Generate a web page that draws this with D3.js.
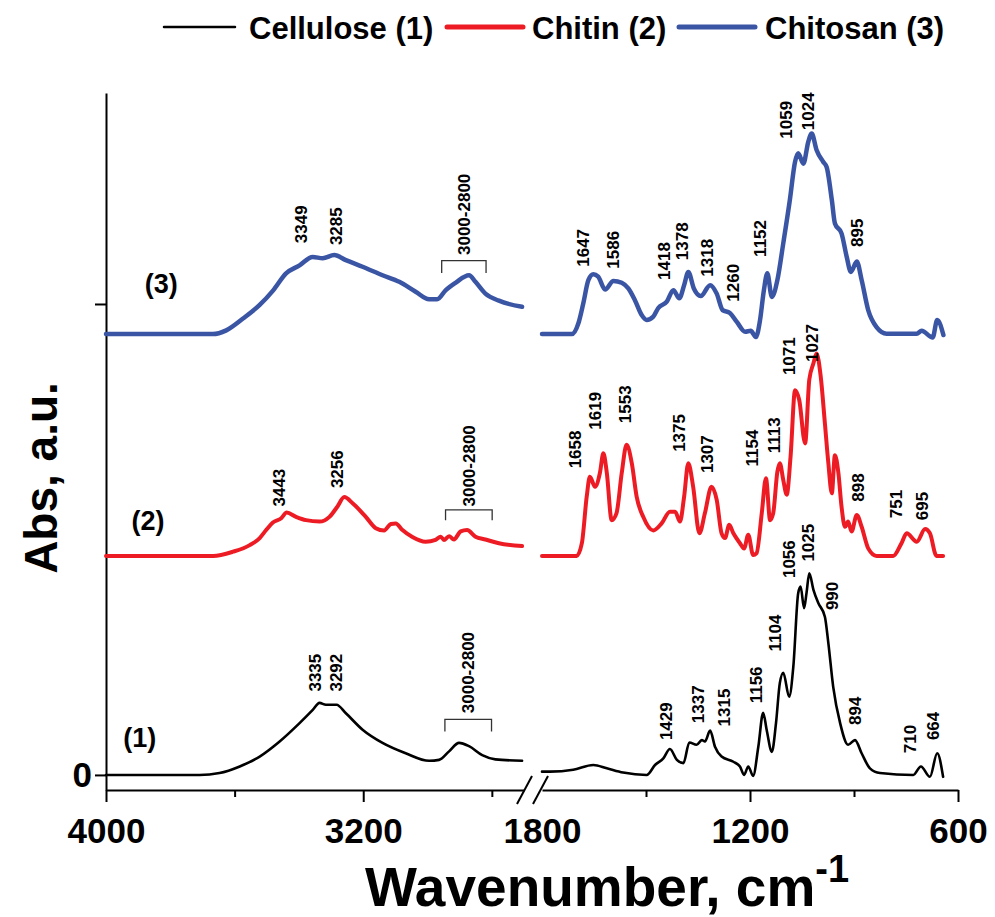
<!DOCTYPE html>
<html>
<head>
<meta charset="utf-8">
<script src="https://cdn.jsdelivr.net/npm/d3@7"></script>
<style>
  body { margin: 0; background: #fff; }
  svg { display: block; }
  text { font-family: "Liberation Sans", Arial, sans-serif; fill: #000; }
</style>
</head>
<body>
<svg id="chart" width="995" height="917"></svg>
<script>
// spectra: [wavenumber, absorbance] pairs, high range (4000-2700) and fingerprint range (1800-600)
const celluloseHigh = [[4000,0],[3709,0],[3647,0.004],[3584,0.018],[3522,0.039],[3460,0.071],[3398,0.110],[3357,0.138],[3336,0.153],[3316,0.149],[3283,0.149],[3254,0.131],[3202,0.096],[3140,0.068],[3068,0.046],[2995,0.030],[2964,0.032],[2933,0.050],[2902,0.068],[2871,0.061],[2830,0.042],[2789,0.033],[2706,0.030]]
const celluloseLow = [[1800,0.007],[1777,0.007],[1710,0.011],[1652,0.021],[1613,0.014],[1566,0.005],[1498,0],[1474,0.021],[1450,0.035],[1431,0.055],[1411,0.032],[1392,0.025],[1375,0.069],[1354,0.064],[1339,0.074],[1330,0.071],[1315,0.094],[1301,0.060],[1282,0.039],[1248,0.028],[1229,0.018],[1217,0],[1205,0.018],[1191,-0.002],[1176,0.060],[1162,0.132],[1152,0.096],[1137,0.049],[1125,0.110],[1114,0.195],[1104,0.217],[1087,0.166],[1075,0.230],[1061,0.386],[1054,0.400],[1044,0.354],[1037,0.386],[1029,0.428],[1017,0.393],[1003,0.365],[984,0.336],[974,0.280],[960,0.187],[940,0.110],[917,0.064],[897,0.074],[878,0.046],[854,0.014],[825,0.004],[729,0],[707,0.018],[681,-0.004],[660,0.046],[643,-0.004]]

const chitinHigh = [[4000,0],[3667,0],[3605,0.009],[3553,0.023],[3522,0.038],[3502,0.055],[3481,0.071],[3455,0.080],[3438,0.092],[3409,0.083],[3378,0.076],[3336,0.073],[3305,0.083],[3280,0.105],[3259,0.125],[3233,0.112],[3192,0.083],[3161,0.059],[3135,0.054],[3114,0.068],[3099,0.069],[3078,0.055],[3047,0.040],[3006,0.030],[2975,0.034],[2959,0.041],[2949,0.034],[2933,0.042],[2918,0.035],[2897,0.052],[2877,0.055],[2851,0.041],[2820,0.035],[2778,0.027],[2706,0.021]]
const chitinLow = [[1800,0],[1700,0],[1685,0.027],[1671,0.126],[1662,0.168],[1647,0.147],[1633,0.176],[1623,0.218],[1613,0.176],[1599,0.076],[1585,0.091],[1570,0.176],[1556,0.236],[1541,0.197],[1527,0.126],[1508,0.083],[1479,0.054],[1455,0.069],[1431,0.094],[1416,0.094],[1402,0.073],[1390,0.126],[1378,0.197],[1364,0.147],[1346,0.048],[1330,0.091],[1311,0.147],[1296,0.119],[1282,0.048],[1272,0.038],[1260,0.066],[1248,0.048],[1229,0.027],[1217,0.016],[1205,0.045],[1191,0.002],[1181,0.006],[1166,0.091],[1154,0.165],[1142,0.076],[1133,0.091],[1121,0.179],[1114,0.197],[1104,0.161],[1094,0.130],[1083,0.211],[1070,0.352],[1058,0.331],[1041,0.239],[1029,0.374],[1017,0.409],[1008,0.430],[996,0.381],[984,0.282],[974,0.197],[964,0.133],[955,0.214],[945,0.176],[936,0.105],[926,0.062],[917,0.073],[907,0.052],[892,0.087],[878,0.062],[859,0.016],[835,0],[787,0],[763,0.027],[748,0.048],[719,0.030],[695,0.057],[681,0.048],[662,0],[643,0]]

const chitosanHigh = [[4000,0],[3668,0],[3626,0.008],[3574,0.033],[3522,0.062],[3480,0.093],[3440,0.129],[3398,0.146],[3357,0.164],[3326,0.161],[3290,0.168],[3254,0.157],[3202,0.143],[3140,0.125],[3088,0.111],[3037,0.090],[2995,0.074],[2970,0.074],[2944,0.093],[2913,0.109],[2871,0.125],[2851,0.111],[2820,0.086],[2778,0.071],[2706,0.058]]
const chitosanLow = [[1800,0],[1714,0],[1695,0.023],[1681,0.065],[1666,0.115],[1652,0.127],[1638,0.122],[1618,0.095],[1594,0.113],[1570,0.109],[1551,0.097],[1532,0.072],[1512,0.040],[1498,0.030],[1479,0.037],[1465,0.055],[1440,0.069],[1421,0.093],[1404,0.076],[1390,0.104],[1378,0.132],[1362,0.097],[1342,0.081],[1315,0.104],[1296,0.086],[1279,0.051],[1258,0.045],[1238,0.026],[1214,0.005],[1198,0.007],[1183,-0.006],[1171,0.030],[1160,0.093],[1150,0.129],[1137,0.079],[1121,0.115],[1104,0.193],[1085,0.285],[1070,0.366],[1061,0.384],[1046,0.362],[1032,0.408],[1022,0.426],[1008,0.391],[989,0.366],[979,0.355],[964,0.285],[955,0.235],[936,0.214],[921,0.164],[909,0.132],[892,0.154],[878,0.115],[859,0.051],[835,0.015],[806,0.001],[719,0.001],[705,0.007],[673,-0.007],[660,0.030],[642,-0.002]]

// vertical offset of each trace (stacked plot)
const seriesNames = ["Cellulose (1)", "Chitin (2)", "Chitosan (3)"]
const seriesTags = ["(1)", "(2)", "(3)"]
const seriesOffsets = [0, 0.465, 0.936]
const seriesColors = ["#000000", "#ed1c24", "#3b55a5"]

// peak labels: [text, wavenumber, level above own baseline]
const celluloseMarks = [["3335",3349,0.177],["3292",3283,0.177],["1429",1442,0.074],["1337",1349,0.110],["1315",1274,0.103],["1156",1183,0.152],["1104",1128,0.262],["1056",1087,0.418],["1025",1032,0.453],["990",964,0.350],["894",897,0.106],["710",739,0.046],["664",671,0.074]]
const chitinMarks = [["3443",3463,0.105],["3256",3280,0.144],["1658",1705,0.186],["1619",1647,0.268],["1553",1561,0.282],["1375",1404,0.221],["1307",1325,0.176],["1154",1195,0.190],["1113",1131,0.218],["1071",1087,0.384],["1027",1022,0.412],["898",888,0.115],["751",779,0.080],["695",705,0.076]]
const chitosanMarks = [["3349",3393,0.193],["3285",3285,0.189],["1647",1683,0.143],["1586",1594,0.139],["1418",1448,0.115],["1378",1397,0.157],["1318",1325,0.122],["1260",1248,0.069],["1152",1171,0.164],["1059",1096,0.415],["1024",1032,0.433],["895",892,0.185]]
// "3000-2800" bracket: [label, from, to, top level, leg level, label level]
const bandBrackets = [["3000-2800",2946,2801,0.118,0.092,0.131],["3000-2800",2944,2799,0.098,0.076,0.105],["3000-2800",2956,2818,0.156,0.130,0.168]]
// where the "(n)" tags sit: [wavenumber, level]
const tagSpots = [[3895,0.079],[3869,0.076],[3828,0.108]]

const highMajor = [4000, 3200], highMinor = [3600, 2800]
const lowMajor = [1800, 1200, 600], lowMinor = [1500, 900]
const yTicks = [0, 1]

const svg = d3.select("#chart")

// scales (broken x axis)
const xHigh = d3.scaleLinear().domain([4000, 2700]).range([106, 524])
const xLow = d3.scaleLinear().domain([1800, 600]).range([542, 958])
const y = d3.scaleLinear().domain([-0.032, 1.448]).range([790, 93])
const xPos = w => w > 2000 ? xHigh(w) : xLow(w)

// axes
function styleAxis(g, fs) {
  g.selectAll(".domain").attr("stroke", "#000").attr("stroke-width", 2)
  g.selectAll(".tick line").attr("stroke", "#000").attr("stroke-width", 2)
  g.selectAll(".tick text").attr("font-size", fs).attr("font-weight", "bold")
    .attr("font-family", "'Liberation Sans', Arial, sans-serif")
}
[[xHigh, highMajor, highMinor], [xLow, lowMajor, lowMinor]].forEach(([sc, maj, mnr]) => {
  const gMaj = svg.append("g").attr("transform", "translate(0,790)")
    .call(d3.axisBottom(sc).tickValues(maj).tickSize(12).tickSizeOuter(0).tickFormat(d3.format("d")))
  styleAxis(gMaj, 35)
  gMaj.attr("font-size", null).attr("font-family", null)
  gMaj.selectAll(".tick text").attr("y", 28)
  // no tick mark at 1800, only the label
  gMaj.selectAll(".tick").filter(d => d === 1800).select("line").remove()
  const gMin = svg.append("g").attr("transform", "translate(0,790)")
    .call(d3.axisBottom(sc).tickValues(mnr).tickSize(7).tickFormat(""))
  gMin.select(".domain").remove()
  styleAxis(gMin, 35)
})

const gy = svg.append("g").attr("transform", "translate(106,0)")
  .call(d3.axisLeft(y).tickValues(yTicks).tickSize(11).tickSizeOuter(0).tickFormat(d => d === 0 ? "0" : ""))
styleAxis(gy, 35)
gy.attr("font-size", null).attr("font-family", null)

// axis break marks
const bx = xHigh.range()[1]
;[0, 16].forEach(dx => {
  svg.append("line")
    .attr("x1", bx - 7 + dx).attr("y1", 804)
    .attr("x2", bx + 8 + dx).attr("y2", 776)
    .attr("stroke", "#000").attr("stroke-width", 2)
})

// traces
const line = (sc, off) => d3.line().curve(d3.curveMonotoneX).x(d => sc(d[0])).y(d => y(d[1] + off))
const traces = [[celluloseHigh, celluloseLow], [chitinHigh, chitinLow], [chitosanHigh, chitosanLow]]
const widths = [2.6, 4, 4.5]
traces.forEach(([hi, lo], i) => {
  ;[[hi, xHigh], [lo, xLow]].forEach(([data, sc]) => {
    svg.append("path").datum(data)
      .attr("d", line(sc, seriesOffsets[i]))
      .attr("fill", "none")
      .attr("stroke", seriesColors[i])
      .attr("stroke-width", widths[i])
      .attr("stroke-linejoin", "round")
      .attr("stroke-linecap", "round")
  })
})

// peak labels
;[celluloseMarks, chitinMarks, chitosanMarks].forEach((marks, i) => {
  svg.append("g").selectAll("text").data(marks).join("text")
    .attr("transform", d => `translate(${xPos(d[1])},${y(seriesOffsets[i] + d[2])}) rotate(-90)`)
    .attr("dy", "0.35em")
    .attr("font-size", 17).attr("font-weight", "bold")
    .text(d => d[0])
})

// 3000-2800 brackets
bandBrackets.forEach((b, i) => {
  const off = seriesOffsets[i]
  const x1 = xHigh(b[1]), x2 = xHigh(b[2])
  svg.append("path")
    .attr("d", `M${x1},${y(off + b[4])}V${y(off + b[3])}H${x2}V${y(off + b[4])}`)
    .attr("fill", "none").attr("stroke", "#333").attr("stroke-width", 1.3)
  svg.append("text")
    .attr("transform", `translate(${(x1 + x2) / 2},${y(off + b[5])}) rotate(-90)`)
    .attr("dy", "0.35em")
    .attr("font-size", 17).attr("font-weight", "bold")
    .text(b[0])
})

// (1) (2) (3)
tagSpots.forEach((t, i) => {
  svg.append("text")
    .attr("x", xHigh(t[0])).attr("y", y(seriesOffsets[i] + t[1]))
    .attr("dy", "0.35em")
    .attr("text-anchor", "middle")
    .attr("font-size", 27).attr("font-weight", "bold")
    .text(seriesTags[i])
})

// axis titles
svg.append("text")
  .attr("transform", "translate(41,478) rotate(-90)")
  .attr("text-anchor", "middle").attr("dy", "0.35em")
  .attr("font-size", 46).attr("font-weight", "bold")
  .text("Abs, a.u.")

const xt = svg.append("text")
  .attr("x", 365).attr("y", 906)
  .attr("font-size", 55).attr("font-weight", "bold")
xt.append("tspan").text("Wavenumber, cm")
xt.append("tspan").attr("dy", -24).attr("font-size", 38).text("-1")

// legend
const legendX = [[164, 235, 249], [447, 523, 532], [679, 755, 765]]
const legendW = [2.5, 5, 5]
seriesNames.forEach((name, i) => {
  const [l1, l2, tx] = legendX[i]
  svg.append("line").attr("x1", l1).attr("x2", l2).attr("y1", 27).attr("y2", 27)
    .attr("stroke", seriesColors[i]).attr("stroke-width", legendW[i]).attr("stroke-linecap", "round")
  svg.append("text").attr("x", tx).attr("y", 28).attr("dy", "0.35em")
    .attr("font-size", 31).attr("font-weight", "bold")
    .text(name)
})
</script>
</body>
</html>
